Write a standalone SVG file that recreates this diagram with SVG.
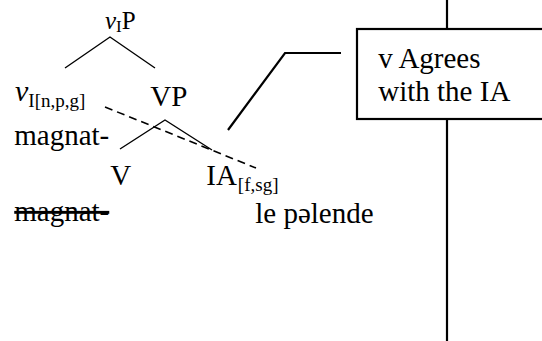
<svg xmlns="http://www.w3.org/2000/svg" width="542" height="341" viewBox="0 0 542 341">
<style>
.ln{stroke:#000;stroke-width:1.4;fill:none}
.thick{stroke:#000;stroke-width:2.2;fill:none}
.dash{stroke:#000;stroke-width:1.6;fill:none;stroke-dasharray:8 5}
.t{font-family:"Liberation Serif","Times New Roman",serif;font-size:29px;fill:#000}
.s{font-size:19px}
.p{font-style:italic;font-size:1px}
</style>
<rect width="542" height="341" fill="#fff"/>
<g id="connectors">
<polyline class="ln" points="65,68 110,37 155,68"/>
<polyline class="ln" points="120,149 165,120 212,150"/>
<line class="dash" x1="105" y1="107" x2="256" y2="168"/>
<polyline class="thick" points="228,130 285,53 341,53"/>
<line class="thick" x1="447" y1="0" x2="447" y2="29"/>
<line class="thick" x1="447" y1="119" x2="447" y2="341"/>
</g>
<g id="vIP"><text class="t" x="105" y="29" style="font-size:25px"><tspan font-style="italic">v</tspan><tspan font-size="17" dy="3">I</tspan><tspan dy="-3">P</tspan></text></g>
<g id="vI"><text class="t" x="15" y="101"><tspan font-style="italic" font-size="30">v</tspan><tspan class="s" dy="6">I[n,p,g]</tspan></text></g>
<g id="VP"><text class="t" x="150" y="106"><tspan class="p">&#160;</tspan><tspan>VP</tspan></text></g>
<g id="magnat1"><text class="t" x="14" y="145"><tspan class="p">&#160;</tspan><tspan>magnat-</tspan></text></g>
<g id="V"><text class="t" x="110" y="185"><tspan class="p">&#160;</tspan><tspan>V</tspan></text></g>
<g id="IA"><text class="t" x="206" y="185"><tspan class="p">&#160;</tspan><tspan>IA</tspan><tspan class="s" dx="1" dy="6">[f,sg]</tspan></text></g>
<g id="magnat2"><text class="t" x="14" y="221" text-decoration="line-through"><tspan class="p">&#160;</tspan><tspan>magnat-</tspan></text></g>
<g id="lepelende"><text class="t" x="255" y="223"><tspan class="p">&#160;</tspan><tspan>le pəlende</tspan></text></g>
<g id="box">
<rect x="357" y="29" width="200" height="90" class="thick" fill="#fff"/>
<text class="t" x="378" y="68"><tspan class="p">&#160;</tspan><tspan>v Agrees</tspan></text>
<text class="t" x="378" y="101"><tspan class="p">&#160;</tspan><tspan>with the IA</tspan></text>
</g>
</svg>
